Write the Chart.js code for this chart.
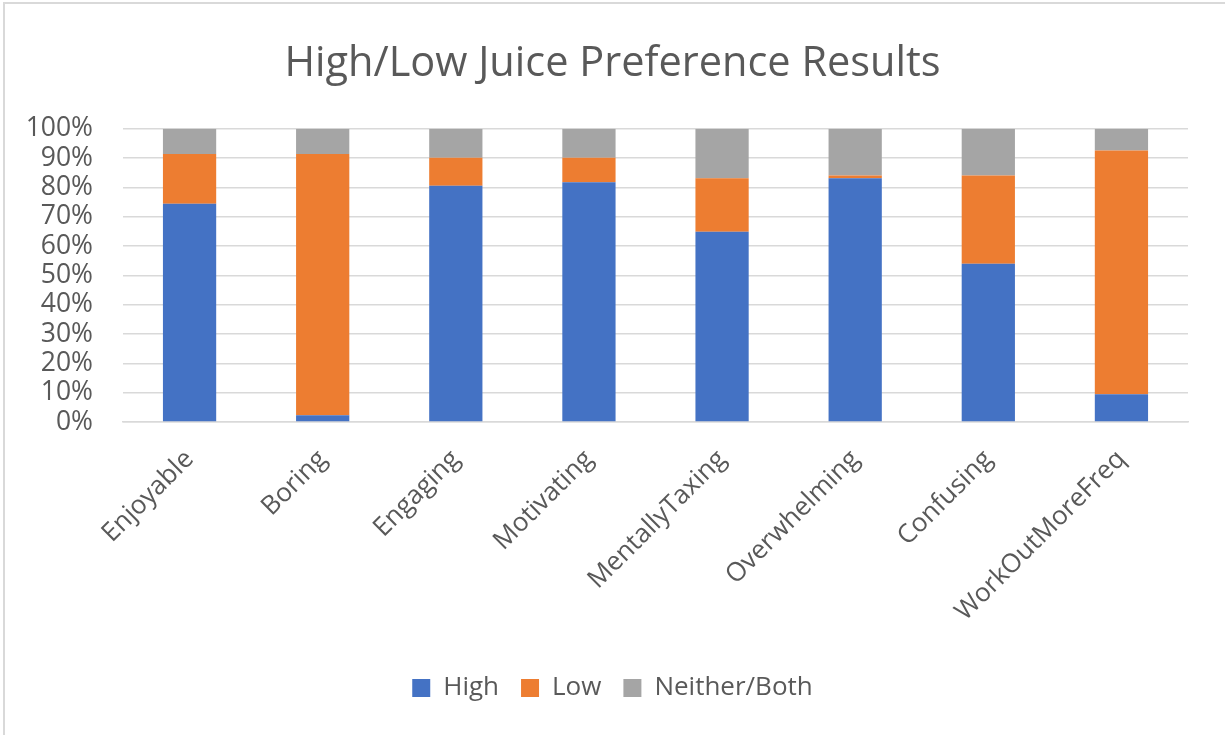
<!DOCTYPE html>
<html>
<head>
<meta charset="utf-8">
<script src="https://cdn.jsdelivr.net/npm/chart.js@4.4.1/dist/chart.umd.min.js"></script>
<style>
  html, body { margin: 0; padding: 0; background: #ffffff; }
  #wrap { width: 1225px; height: 735px; position: relative; }
</style>
</head>
<body>
<div id="wrap"><canvas id="chart" width="1225" height="735"></canvas></div>
<script>
// Survey answers per statement, as percentages of respondents
const categories = ['Enjoyable', 'Boring', 'Engaging', 'Motivating', 'MentallyTaxing', 'Overwhelming', 'Confusing', 'WorkOutMoreFreq'];
const highValues    = [74.4,  2.3, 80.6, 81.8, 64.9, 83.1, 54.0,  9.5];
const lowValues     = [17.0, 89.1,  9.5,  8.3, 18.2,  1.0, 30.1, 83.1];
const neitherValues = [ 8.6,  8.6,  9.9,  9.9, 16.9, 15.9, 15.9,  7.4];
const yTicks = [0, 10, 20, 30, 40, 50, 60, 70, 80, 90, 100];

const FONT = "'Open Sans', 'Noto Sans', sans-serif";
const TEXT = '#595959';
const GRID = '#d9d9d9';

// Thin frame along the top and left edges of the chart
const framePlugin = {
  id: 'frame',
  beforeDraw(chart) {
    const ctx = chart.ctx;
    ctx.save();
    ctx.fillStyle = '#ffffff';
    ctx.fillRect(0, 0, chart.width, chart.height);
    ctx.strokeStyle = GRID;
    ctx.lineWidth = 2;
    ctx.beginPath();
    ctx.moveTo(4, chart.height);
    ctx.lineTo(4, 3);
    ctx.lineTo(chart.width, 3);
    ctx.stroke();
    ctx.restore();
  }
};

const bar = (label, data, color) => ({
  label, data,
  backgroundColor: color,
  borderWidth: 0,
  categoryPercentage: 1.0,
  barPercentage: 0.4
});

new Chart(document.getElementById('chart'), {
  type: 'bar',
  data: {
    labels: categories,
    datasets: [
      bar('High', highValues, '#4472C4'),
      bar('Low', lowValues, '#ED7D31'),
      bar('Neither/Both', neitherValues, '#A5A5A5')
    ]
  },
  options: {
    responsive: false,
    animation: false,
    layout: { padding: { left: 0, right: 0, top: 0, bottom: 24 } },
    plugins: {
      title: {
        display: true,
        text: 'High/Low Juice Preference Results',
        color: TEXT,
        font: { family: FONT, size: 41.5, weight: 'normal' },
        padding: { top: 39, bottom: 40 }
      },
      legend: {
        position: 'bottom',
        labels: {
          color: TEXT,
          font: { family: FONT, size: 26 },
          boxWidth: 18,
          boxHeight: 18,
          padding: 22
        }
      },
      tooltip: { enabled: false }
    },
    scales: {
      x: {
        stacked: true,
        grid: { display: false },
        border: { color: GRID, width: 1.5 },
        ticks: {
          color: TEXT,
          font: { family: FONT, size: 26 },
          minRotation: 45,
          maxRotation: 45,
          autoSkip: false,
          padding: 14
        },
        afterFit(scale) { scale.height = 231; }
      },
      y: {
        stacked: true,
        min: 0,
        max: 100,
        afterBuildTicks(scale) { scale.ticks = yTicks.map(v => ({ value: v })); },
        grid: { color: GRID, lineWidth: 1.5, drawTicks: false },
        border: { display: false },
        ticks: {
          color: TEXT,
          font: { family: FONT, size: 26.5 },
          padding: 30,
          autoSkip: false,
          callback: v => v + '%'
        },
        afterFit(scale) { scale.width = 123; }
      },
      // empty margin on the right of the plot
      gutter: {
        position: 'right',
        grid: { display: false },
        border: { display: false },
        ticks: { display: false },
        afterFit(scale) { scale.width = 37; }
      }
    }
  },
  plugins: [framePlugin]
});
</script>
</body>
</html>
